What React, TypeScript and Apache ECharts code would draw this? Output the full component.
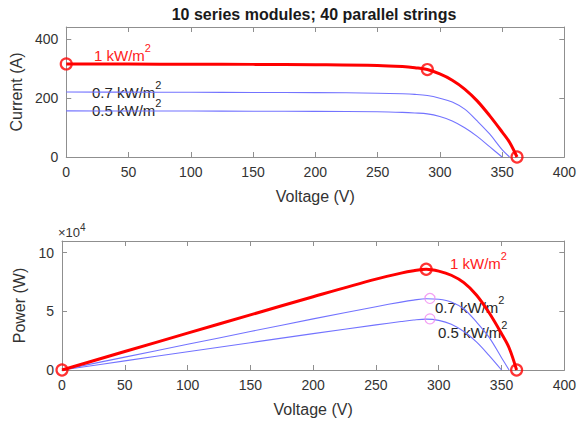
import React, { useEffect, useRef } from 'react';
import * as echarts from 'echarts';

// ---- Data ----
const voltage1kW = [0, 50, 100, 150, 200, 250, 270, 280, 290, 300, 310, 320, 330, 340, 350, 356, 362];
const current1kW = [315, 314.5, 314, 313.5, 312.5, 310, 306, 302, 296, 281, 260, 230, 190, 140, 85, 50, 0];
const power1kW = [0, 15750, 31400, 47000, 62500, 77500, 82600, 84600, 85900, 84300, 80800, 74500, 64000, 49000, 31000, 19000, 0];

const voltage07 = [0, 50, 100, 150, 200, 250, 270, 280, 290, 300, 310, 320, 330, 340, 350, 356];
const current07 = [220, 219.5, 219, 218.5, 218, 216, 214, 212, 208, 199, 186, 162, 122, 78, 25, 0];
const power07 = [0, 11000, 21900, 32800, 43600, 54000, 57900, 59600, 60800, 60300, 58000, 52000, 41000, 28000, 10500, 0];

const voltage05 = [0, 50, 100, 150, 200, 250, 270, 280, 290, 300, 310, 320, 330, 340, 350];
const current05 = [156, 155.8, 155.5, 155, 154.5, 153, 151, 149, 146, 137, 122, 99, 70, 35, 0];
const power05 = [0, 7800, 15600, 23300, 31000, 38500, 41300, 42600, 43400, 42300, 39000, 32800, 24000, 12500, 0];

// marked points (short circuit, maximum power point, open circuit)
const ivMarkers1kW = [[0, 315], [290, 296], [362, 0]];
const pvMarkers1kW = [[0, 0], [290, 85900], [362, 0]];
const pvMppLow = [[293, 61000], [293, 43600]];

const voltageTickStep = 50;
const currentTicks = [0, 200, 400];
const powerTicks = [0, 50000, 100000];

const title = '10 series modules; 40 parallel strings';
const labelHigh = '1 kW/m';
const label07 = '0.7 kW/m';
const label05 = '0.5 kW/m';

const FONT = 'Liberation Sans, Arial, Helvetica, sans-serif';
const AXIS_COLOR = '#8f8f8f';
const TEXT_COLOR = '#333333';
const RED = '#ff0000';
const BLUE = '#7373ff';
const PINK = '#f08af0';

const pairs = (xs: number[], ys: number[]) => xs.map((x, i) => [x, ys[i]]);

function xAxes(grid: number) {
  const common = {
    type: 'value',
    gridIndex: grid,
    min: 0,
    max: 400,
    interval: voltageTickStep,
    splitLine: { show: false },
    axisLine: { show: true, onZero: false, lineStyle: { color: AXIS_COLOR, width: 1 } },
    axisTick: { show: true, inside: true, length: 5, lineStyle: { color: AXIS_COLOR } },
  };
  return [
    {
      ...common,
      position: 'bottom',
      axisLabel: { fontSize: 14, color: TEXT_COLOR, margin: 8, fontFamily: FONT },
      name: 'Voltage (V)',
      nameLocation: 'middle',
      nameGap: 31,
      nameTextStyle: { fontSize: 16, color: TEXT_COLOR, fontFamily: FONT },
    },
    { ...common, position: 'top', axisLabel: { show: false } },
  ];
}

function yAxes(grid: number, max: number, ticks: number[], name: string, gap: number, fmt: (v: number) => string) {
  const common = {
    type: 'value',
    gridIndex: grid,
    min: 0,
    max,
    splitLine: { show: false },
    axisLine: { show: true, onZero: false, lineStyle: { color: AXIS_COLOR, width: 1 } },
    axisTick: { show: true, inside: true, length: 5, customValues: ticks, lineStyle: { color: AXIS_COLOR } },
  };
  return [
    {
      ...common,
      position: 'left',
      axisLabel: { fontSize: 14, color: TEXT_COLOR, margin: 8, fontFamily: FONT, customValues: ticks, formatter: fmt },
      name,
      nameLocation: 'middle',
      nameGap: gap,
      nameTextStyle: { fontSize: 16, color: TEXT_COLOR, fontFamily: FONT },
    },
    { ...common, position: 'right', axisLabel: { show: false } },
  ];
}

function supText(x: number, y: number, base: string, sup: string, color: string, size = 15, supSize = 11, lh = 26) {
  return {
    type: 'text',
    x,
    y,
    silent: true,
    style: {
      text: `{a|${base}}{s|${sup}}`,
      align: 'left',
      verticalAlign: 'middle',
      fill: color,
      rich: {
        a: { fontSize: size, lineHeight: lh, verticalAlign: 'middle', fill: color, fontFamily: FONT },
        s: { fontSize: supSize, lineHeight: supSize, verticalAlign: 'top', fill: color, fontFamily: FONT },
      },
    },
  };
}

export default function App() {
  const ref = useRef<HTMLDivElement>(null);

  useEffect(() => {
    if (!ref.current) return;
    const chart = echarts.init(ref.current, undefined, { renderer: 'svg' });

    const blueLine = (xi: number, yi: number, data: number[][]) => ({
      type: 'line',
      xAxisIndex: xi,
      yAxisIndex: yi,
      data,
      showSymbol: false,
      smooth: 0.35,
      lineStyle: { color: BLUE, width: 1.1 },
      z: 2,
    });
    const redLine = (xi: number, yi: number, data: number[][]) => ({
      type: 'line',
      xAxisIndex: xi,
      yAxisIndex: yi,
      data,
      showSymbol: false,
      smooth: 0.35,
      lineStyle: { color: RED, width: 3 },
      z: 3,
    });
    const markers = (xi: number, yi: number, data: number[][], color: string, size: number, bw: number) => ({
      type: 'scatter',
      xAxisIndex: xi,
      yAxisIndex: yi,
      data,
      symbol: 'circle',
      symbolSize: size,
      itemStyle: { color: 'rgba(255,255,255,0)', borderColor: color, borderWidth: bw },
      z: 4,
    });

    chart.setOption({
      animation: false,
      textStyle: { fontFamily: FONT },
      grid: [
        { left: 62, top: 27, width: 504, height: 130 },
        { left: 62, top: 241, width: 504, height: 129 },
      ],
      xAxis: [...xAxes(0), ...xAxes(1)],
      yAxis: [
        ...yAxes(0, 440, currentTicks, 'Current (A)', 37, (v: number) => String(v)),
        ...yAxes(1, 110000, powerTicks, 'Power (W)', 28, (v: number) => String(v / 10000)),
      ],
      series: [
        blueLine(0, 0, pairs(voltage07, current07)),
        blueLine(0, 0, pairs(voltage05, current05)),
        redLine(0, 0, pairs(voltage1kW, current1kW)),
        markers(0, 0, ivMarkers1kW, RED, 11, 2.2),
        blueLine(2, 2, pairs(voltage07, power07)),
        blueLine(2, 2, pairs(voltage05, power05)),
        redLine(2, 2, pairs(voltage1kW, power1kW)),
        markers(2, 2, pvMarkers1kW, RED, 11, 2.2),
        markers(2, 2, pvMppLow, PINK, 10, 1.2),
      ],
      graphic: [
        {
          type: 'text',
          x: 314,
          y: 14,
          silent: true,
          style: {
            text: title,
            align: 'center',
            verticalAlign: 'middle',
            fill: '#1a1a1a',
            font: `bold 16px ${FONT}`,
          },
        },
        supText(94, 55, labelHigh, '2', '#ff2020'),
        supText(92, 92, label07, '2', '#262626'),
        supText(92, 110, label05, '2', '#262626'),
        supText(450, 263, labelHigh, '2', '#ff2020'),
        supText(435, 307, label07, '2', '#262626'),
        supText(438, 332, label05, '2', '#262626'),
        supText(58, 232, '\u00d710', '4', TEXT_COLOR, 13, 10, 20),
      ],
    });

    return () => chart.dispose();
  }, []);

  return <div ref={ref} style={{ position: 'absolute', left: 0, top: 0, width: 579, height: 423 }} />;
}
